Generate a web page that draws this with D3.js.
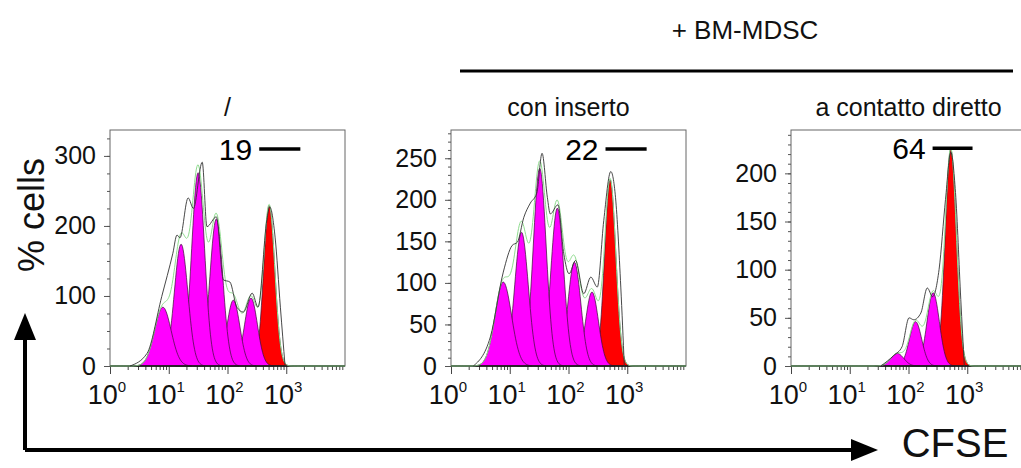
<!DOCTYPE html>
<html>
<head>
<meta charset="utf-8">
<script src="https://cdn.jsdelivr.net/npm/d3@7"></script>
<style>
body { margin: 0; background: #fff; }
svg { display: block; font-family: "Liberation Sans", Arial, sans-serif; }
</style>
</head>
<body>
<svg id="chart" width="1021" height="468"></svg>
<script>
// ---- labels ----
var groupTitle = "+ BM-MDSC";
var panelTitles = ["/", "con inserto", "a contatto diretto"];
var gateLabels = ["19", "22", "64"];
var yLabel = "% cells";
var xLabel = "CFSE";

// ---- axes ----
var yTop = [337, 284, 245];
var yMajorTicks = [[0, 100, 200, 300], [0, 50, 100, 150, 200, 250], [0, 50, 100, 150, 200]];
var yMinorStep = [25, 10, 10];
var xExponents = [0, 1, 2, 3];

// gate marker: log10 CFSE from / to, count level
var gateFrom = [2.54, 2.63, 2.41];
var gateTo = [3.24, 3.33, 3.09];
var gateLevel = [310, 261, 226];

// fitted generation peaks (log10 CFSE centre, height, width in decades); last one = undivided
var peakPos1 = [0.90, 1.21, 1.50, 1.81, 2.10, 2.40, 2.71];
var peakHeight1 = [84, 174, 276, 210, 94, 97, 229];
var peakWidth1 = [0.14, 0.115, 0.11, 0.11, 0.11, 0.11, 0.095];

var peakPos2 = [0.89, 1.20, 1.51, 1.81, 2.10, 2.40, 2.71];
var peakHeight2 = [101, 161, 238, 190, 125, 89, 224];
var peakWidth2 = [0.14, 0.115, 0.11, 0.11, 0.11, 0.11, 0.095];

var peakPos3 = [1.81, 2.12, 2.42, 2.72];
var peakHeight3 = [13, 46, 76, 225];
var peakWidth3 = [0.11, 0.105, 0.105, 0.095];

// raw histogram trace (log10 CFSE, count)
var rawLog1 = [0.34, 0.63, 0.88, 1.07, 1.14, 1.19, 1.33, 1.42, 1.57, 1.65, 1.81, 1.93, 2.04, 2.16, 2.27, 2.42, 2.52, 2.67, 2.72, 2.81, 2.90, 2.98];
var rawCount1 = [0, 18, 99, 161, 187, 183, 240, 225, 291, 199, 213, 123, 120, 84, 77, 104, 84, 209, 227, 184, 84, 0];

var rawLog2 = [0.38, 0.67, 0.89, 1.04, 1.13, 1.24, 1.35, 1.46, 1.55, 1.64, 1.69, 1.82, 1.92, 2.01, 2.12, 2.26, 2.38, 2.49, 2.60, 2.72, 2.80, 2.89, 2.95];
var rawCount2 = [0, 35, 113, 145, 149, 179, 196, 208, 256, 203, 183, 194, 135, 111, 127, 87, 107, 95, 175, 234, 203, 95, 0];

var rawLog3 = [1.53, 1.75, 1.89, 2.01, 2.09, 2.21, 2.32, 2.41, 2.52, 2.63, 2.72, 2.80, 2.89, 2.95];
var rawCount3 = [0, 11, 20, 50, 48, 55, 81, 72, 100, 173, 222, 180, 69, 0];

var panels = [
    {pos: peakPos1, h: peakHeight1, w: peakWidth1, rx: rawLog1, ry: rawCount1},
    {pos: peakPos2, h: peakHeight2, w: peakWidth2, rx: rawLog2, ry: rawCount2},
    {pos: peakPos3, h: peakHeight3, w: peakWidth3, rx: rawLog3, ry: rawCount3}
];

var svg = d3.select("#chart");

var panelLeft = [110, 451, 791],
    panelW = 235,
    plotTop = 130,
    plotBottom = 366;

function gauss(p, v) {
    var s = 0;
    for (var k = 0; k < p.pos.length; k++) {
        var t = (v - p.pos[k]) / p.w[k];
        s += p.h[k] * Math.exp(-0.5 * t * t);
    }
    return s;
}

panels.forEach(function(p, i) {
    var x0 = panelLeft[i];
    var x = d3.scaleLog().domain([1, 1e4]).range([x0, x0 + panelW]);
    var y = d3.scaleLinear().domain([0, yTop[i]]).range([plotBottom, plotTop]);
    var lx = function(v) { return x(Math.pow(10, v)); };

    var g = svg.append("g");

    // peaks, drawn right to left so each left peak overlaps the next one
    var area = d3.area()
        .x(function(d) { return lx(d[0]); })
        .y0(plotBottom)
        .y1(function(d) { return y(d[1]); });

    for (var k = p.pos.length - 1; k >= 0; k--) {
        var pts = [];
        for (var t = -35; t <= 35; t++) {
            var u = t / 10;
            pts.push([p.pos[k] + u * p.w[k], p.h[k] * Math.exp(-0.5 * u * u)]);
        }
        g.append("path")
            .datum(pts)
            .attr("d", area)
            .attr("fill", k == p.pos.length - 1 ? "#ff0000" : "#ff00ff")
            .attr("stroke", "#3a1035")
            .attr("stroke-width", 0.7);
    }

    // frame
    g.append("rect")
        .attr("x", x0).attr("y", plotTop)
        .attr("width", panelW).attr("height", plotBottom - plotTop)
        .attr("fill", "none").attr("stroke", "#666").attr("stroke-width", 1);

    // x axis
    var minors = [];
    for (var d = 0; d < 4; d++)
        for (var m = 2; m < 10; m++) minors.push(m * Math.pow(10, d));

    var xAxisMinor = d3.axisBottom(x).tickValues(minors).tickSize(4).tickFormat("");
    var xAxisMajor = d3.axisBottom(x).tickValues(xExponents.map(function(e) { return Math.pow(10, e); }))
        .tickSize(8).tickFormat("");
    [xAxisMinor, xAxisMajor].forEach(function(ax) {
        var a = g.append("g").attr("transform", "translate(0," + plotBottom + ")").call(ax);
        a.select(".domain").remove();
        a.selectAll("line").attr("stroke", "#444");
    });
    g.append("line")
        .attr("x1", x0).attr("x2", x0 + panelW)
        .attr("y1", plotBottom).attr("y2", plotBottom)
        .attr("stroke", "#111").attr("stroke-width", 1.5);

    xExponents.forEach(function(e) {
        var t = g.append("text")
            .attr("x", x(Math.pow(10, e)) - 3)
            .attr("y", 404)
            .attr("text-anchor", "middle")
            .attr("font-size", 27)
            .attr("fill", "#111");
        t.append("tspan").text("10");
        t.append("tspan").attr("dy", -12).attr("font-size", 15).text(e);
    });

    // y axis
    var minorY = d3.range(0, yTop[i], yMinorStep[i]);
    var yMinor = d3.axisLeft(y).tickValues(minorY).tickSize(3).tickFormat("");
    var yMajor = d3.axisLeft(y).tickValues(yMajorTicks[i]).tickSize(6).tickPadding(8);
    [yMinor, yMajor].forEach(function(ax) {
        var a = g.append("g").attr("transform", "translate(" + x0 + ",0)").call(ax);
        a.select(".domain").remove();
        a.selectAll("line").attr("stroke", "#555");
        a.selectAll("text")
            .attr("font-size", 25)
            .attr("font-family", "Liberation Sans, Arial, sans-serif")
            .attr("fill", "#111");
    });

    // model fit (green) and raw trace (black)
    var fit = d3.range(0, 4.0001, 0.01).map(function(v) { return [v, gauss(p, v)]; });
    var line = d3.line()
        .x(function(d) { return lx(d[0]); })
        .y(function(d) { return y(d[1]); });

    var raw = p.rx.map(function(v, j) { return [v, p.ry[j]]; });
    g.append("path").datum(fit)
        .attr("d", line)
        .attr("fill", "none").attr("stroke", "#8fdc8f").attr("stroke-width", 1);

    g.append("path").datum(raw)
        .attr("d", line.curve(d3.curveMonotoneX))
        .attr("fill", "none").attr("stroke", "#333").attr("stroke-width", 0.9);

    // gate marker
    g.append("line")
        .attr("x1", lx(gateFrom[i])).attr("x2", lx(gateTo[i]))
        .attr("y1", y(gateLevel[i])).attr("y2", y(gateLevel[i]))
        .attr("stroke", "#000").attr("stroke-width", 3.5);
    g.append("text")
        .attr("x", lx(gateFrom[i]) - 7)
        .attr("y", y(gateLevel[i]) + 11)
        .attr("text-anchor", "end")
        .attr("font-size", 30)
        .attr("fill", "#000")
        .text(gateLabels[i]);

    // panel title
    g.append("text")
        .attr("x", x0 + panelW / 2)
        .attr("y", 116)
        .attr("text-anchor", "middle")
        .attr("font-size", 25)
        .attr("fill", "#111")
        .text(panelTitles[i]);
});

// group header
svg.append("text")
    .attr("x", 745).attr("y", 39)
    .attr("text-anchor", "middle")
    .attr("font-size", 26)
    .attr("fill", "#111")
    .text(groupTitle);
svg.append("line")
    .attr("x1", 460).attr("x2", 1013)
    .attr("y1", 71).attr("y2", 71)
    .attr("stroke", "#000").attr("stroke-width", 3);

// axis arrows
svg.append("path")
    .attr("d", "M25,450 L25,338 M25,450 L852,450")
    .attr("fill", "none").attr("stroke", "#000").attr("stroke-width", 4);
svg.append("path")
    .attr("d", "M25,313 L14,340 L36,340 Z")
    .attr("fill", "#000");
svg.append("path")
    .attr("d", "M878,450 L851,439 L851,461 Z")
    .attr("fill", "#000");

svg.append("text")
    .attr("transform", "translate(44,215) rotate(-90)")
    .attr("text-anchor", "middle")
    .attr("font-size", 36)
    .attr("fill", "#111")
    .text(yLabel);
svg.append("text")
    .attr("x", 955).attr("y", 457)
    .attr("text-anchor", "middle")
    .attr("font-size", 40)
    .attr("fill", "#111")
    .text(xLabel);
</script>
</body>
</html>
